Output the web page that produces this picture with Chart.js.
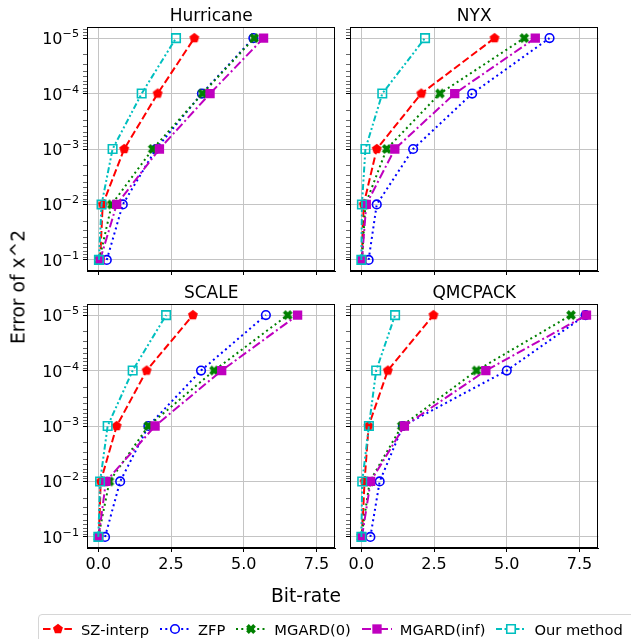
<!DOCTYPE html>
<html>
<head>
<meta charset="utf-8">
<script src="https://cdn.jsdelivr.net/npm/chart.js@4.4.1/dist/chart.umd.min.js"></script>
<style>
  body { margin: 0; background: #fff; width: 631px; height: 639px; overflow: hidden; position: relative;
         font-family: "DejaVu Sans", sans-serif; color: #000; }
  canvas.panel { position: absolute; }
  #ylabel { position: absolute; left: 18px; top: 287px; transform: translate(-50%, -50%) rotate(-90deg);
            font-size: 18.7px; white-space: nowrap; }
  #xlabel { position: absolute; left: 306px; top: 595px; transform: translate(-50%, -50%);
            font-size: 18.7px; white-space: nowrap; }
  #legend { position: absolute; left: 38px; top: 614px; width: 620px; height: 34px; box-sizing: border-box;
            border: 1px solid #d6d6d6; border-radius: 4px; background: #fff;
            display: flex; align-items: flex-start; padding: 4px 0 0 4px; font-size: 14.7px; white-space: nowrap; }
  .item { display: flex; align-items: center; margin-right: 11px; }
  .item canvas { margin-right: 8px; }
</style>
</head>
<body>
<canvas class="panel" id="hurricane"></canvas>
<canvas class="panel" id="nyx"></canvas>
<canvas class="panel" id="scale"></canvas>
<canvas class="panel" id="qmcpack"></canvas>
<div id="ylabel">Error of x^2</div>
<div id="xlabel">Bit-rate</div>
<div id="legend"></div>

<script>
// ---------- Data (bit-rate at each error bound) ----------
const errorBounds = [1e-1, 1e-2, 1e-3, 1e-4, 1e-5];
const methodNames = ["SZ-interp", "ZFP", "MGARD(0)", "MGARD(inf)", "Our method"];

const hurricaneSZ    = [0.06, 0.15, 0.89, 2.04, 3.30];
const hurricaneZFP   = [0.29, 0.84, 1.98, 3.56, 5.33];
const hurricaneMG0   = [0.03, 0.46, 1.87, 3.58, 5.36];
const hurricaneMGinf = [0.06, 0.63, 2.10, 3.84, 5.68];
const hurricaneOurs  = [0.02, 0.11, 0.49, 1.49, 2.67];

const nyxSZ    = [0.02, 0.08, 0.53, 2.06, 4.58];
const nyxZFP   = [0.25, 0.53, 1.78, 3.81, 6.47];
const nyxMG0   = [0.02, 0.14, 0.87, 2.70, 5.60];
const nyxMGinf = [0.02, 0.17, 1.15, 3.21, 5.98];
const nyxOurs  = [0.00, 0.02, 0.14, 0.72, 2.19];

const scaleSZ    = [0.02, 0.08, 0.63, 1.66, 3.25];
const scaleZFP   = [0.23, 0.75, 1.72, 3.53, 5.76];
const scaleMG0   = [0.00, 0.38, 1.72, 3.98, 6.51];
const scaleMGinf = [0.01, 0.26, 1.95, 4.24, 6.85];
const scaleOurs  = [0.00, 0.06, 0.32, 1.18, 2.33];

const qmcSZ    = [0.02, 0.11, 0.25, 0.91, 2.48];
const qmcZFP   = [0.31, 0.63, 1.43, 5.00, 7.71];
const qmcMG0   = [0.00, 0.29, 1.39, 3.96, 7.21];
const qmcMGinf = [0.02, 0.32, 1.48, 4.28, 7.74];
const qmcOurs  = [0.00, 0.03, 0.26, 0.51, 1.16];

const xTicks = [0, 2.5, 5, 7.5];

// ---------- Marker images ----------
function polyMarker(points, color) {
    const c = document.createElement("canvas");
    c.width = 14; c.height = 14;
    const g = c.getContext("2d");
    g.translate(7, 7);
    g.beginPath();
    points.forEach((p, i) => i ? g.lineTo(p[0], p[1]) : g.moveTo(p[0], p[1]));
    g.closePath();
    g.fillStyle = color;
    g.fill();
    return c;
}

function pentagon(r, color) {
    const pts = [];
    for (let i = 0; i < 5; i++) {
        const a = -Math.PI / 2 + i * 2 * Math.PI / 5;
        pts.push([r * Math.cos(a), r * Math.sin(a)]);
    }
    return polyMarker(pts, color);
}

function filledX(r, w, color) {
    const base = [[-w, -r], [w, -r], [w, -w], [r, -w], [r, w], [w, w],
                  [w, r], [-w, r], [-w, w], [-r, w], [-r, -w], [-w, -w]];
    const c = Math.SQRT1_2;
    return polyMarker(base.map(p => [(p[0] - p[1]) * c, (p[0] + p[1]) * c]), color);
}

// ---------- Styles per method ----------
const styles = [
    { color: "#ff0000", dash: [7.5, 3.2],               point: pentagon(5.2, "#ff0000"), radius: 5, fill: "#ff0000", bw: 0 },
    { color: "#0000ff", dash: [2, 3.3],                 point: "circle", radius: 4.3, fill: "rgba(0,0,0,0)", bw: 1.6 },
    { color: "#008000", dash: [2, 3.3],                 point: filledX(5.0, 1.9, "#008000"), radius: 5, fill: "#008000", bw: 0 },
    { color: "#bf00bf", dash: [9, 3, 2, 3],             point: "rect", radius: 6.6, fill: "#bf00bf", bw: 0 },
    { color: "#00bfbf", dash: [6, 2.5, 2, 2.5, 2, 2.5], point: "rect", radius: 6.0, fill: "rgba(0,0,0,0)", bw: 1.6 }
];

function toPoints(arr) {
    return arr.map((x, i) => ({ x: x, y: errorBounds[i] }));
}

function isMajor(v) {
    const l = Math.log10(v);
    return Math.abs(l - Math.round(l)) < 1e-9;
}

// every major and minor tick inside the visible range
const yMin = Math.pow(10, -5.2), yMax = Math.pow(10, -0.8);
const yTickValues = [];
for (let e = -6; e <= -1; e++) {
    for (let k = 1; k <= 9; k++) {
        const v = k * Math.pow(10, e);
        if (v >= yMin && v <= yMax) yTickValues.push(v);
    }
}

// ---------- Frame, title and 10^n labels ----------
const framePlugin = {
    id: "frame",
    afterDraw(chart, args, opts) {
        const a = chart.chartArea, g = chart.ctx;
        g.save();
        g.strokeStyle = "#000";
        g.lineWidth = 1;
        g.strokeRect(Math.round(a.left) + 0.5, Math.round(a.top) + 0.5,
                     Math.round(a.right - a.left) - 1, Math.round(a.bottom - a.top) - 1);
        g.fillStyle = "#000";
        g.font = "17px 'DejaVu Sans'";
        g.textAlign = "center";
        g.textBaseline = "alphabetic";
        g.fillText(opts.text, (a.left + a.right) / 2, a.top - 6);

        if (opts.yLabels) {
            const ys = chart.scales.y;
            g.textAlign = "left";
            ys.ticks.forEach(t => {
                if (!isMajor(t.value)) return;
                const py = ys.getPixelForValue(t.value);
                const exp = "\u2212" + Math.abs(Math.round(Math.log10(t.value)));
                g.font = "11.2px 'DejaVu Sans'";
                const wExp = g.measureText(exp).width;
                g.font = "16px 'DejaVu Sans'";
                const wBase = g.measureText("10").width;
                const right = a.left - 8;
                const x0 = right - wExp - wBase;
                const base = py + 6;
                g.fillText("10", x0, base);
                g.font = "11.2px 'DejaVu Sans'";
                g.fillText(exp, x0 + wBase, base - 7);
            });
        }
        g.restore();
    }
};

// ---------- Create one subplot ----------
function createPanel(id, title, series, pos) {
    const el = document.getElementById(id);
    el.width = pos.leftW + 252 + 4;
    el.height = pos.topH + 244 + pos.bottomH;
    el.style.left = (pos.axL - pos.leftW) + "px";
    el.style.top = (pos.axT - pos.topH) + "px";

    const datasets = series.map((arr, i) => ({
        label: methodNames[i],
        data: toPoints(arr),
        borderColor: styles[i].color,
        borderWidth: 2,
        borderDash: styles[i].dash,
        pointStyle: styles[i].point,
        pointRadius: styles[i].radius,
        pointBackgroundColor: styles[i].fill,
        pointBorderColor: styles[i].color,
        pointBorderWidth: styles[i].bw,
        fill: false,
        tension: 0,
        order: 4 - i
    }));

    return new Chart(el, {
        type: "line",
        data: { datasets: datasets },
        options: {
            responsive: false,
            animation: false,
            devicePixelRatio: 1,
            layout: { padding: { top: pos.topH, right: 4, left: 0, bottom: 0 } },
            plugins: {
                legend: { display: false },
                tooltip: { enabled: false },
                frame: { text: title, yLabels: pos.showY }
            },
            scales: {
                x: {
                    type: "linear",
                    min: -0.39, max: 8.15,
                    afterBuildTicks: s => { s.ticks = xTicks.map(v => ({ value: v })); },
                    afterFit: s => { s.height = pos.bottomH; },
                    ticks: {
                        display: pos.showX,
                        autoSkip: false,
                        maxRotation: 0,
                        padding: 3,
                        color: "#000",
                        font: { family: "DejaVu Sans", size: 16 },
                        callback: v => v.toFixed(1)
                    },
                    grid: { color: "#c4c4c4", lineWidth: 1, tickColor: "#000", tickLength: 4 },
                    border: { display: true, color: "#000", width: 1 }
                },
                y: {
                    type: "logarithmic",
                    reverse: true,
                    min: yMin, max: yMax,
                    afterBuildTicks: s => { s.ticks = yTickValues.map(v => ({ value: v })); },
                    afterFit: s => { s.width = pos.leftW; },
                    ticks: { display: false, autoSkip: false },
                    grid: {
                        color: ctx => (ctx.tick && isMajor(ctx.tick.value)) ? "#c4c4c4" : "rgba(0,0,0,0)",
                        lineWidth: 1,
                        tickColor: "#000",
                        tickWidth: ctx => (ctx.tick && isMajor(ctx.tick.value)) ? 1 : 0.6,
                        tickLength: 4
                    },
                    border: { display: true, color: "#000", width: 1 }
                }
            }
        },
        plugins: [framePlugin]
    });
}

createPanel("hurricane", "Hurricane", [hurricaneSZ, hurricaneZFP, hurricaneMG0, hurricaneMGinf, hurricaneOurs],
            { axL: 87, axT: 27, leftW: 87, topH: 27, bottomH: 10, showX: false, showY: true });
createPanel("nyx", "NYX", [nyxSZ, nyxZFP, nyxMG0, nyxMGinf, nyxOurs],
            { axL: 350, axT: 27, leftW: 10, topH: 27, bottomH: 10, showX: false, showY: false });
createPanel("scale", "SCALE", [scaleSZ, scaleZFP, scaleMG0, scaleMGinf, scaleOurs],
            { axL: 87, axT: 304, leftW: 87, topH: 30, bottomH: 30, showX: true, showY: true });
createPanel("qmcpack", "QMCPACK", [qmcSZ, qmcZFP, qmcMG0, qmcMGinf, qmcOurs],
            { axL: 350, axT: 304, leftW: 10, topH: 30, bottomH: 30, showX: true, showY: false });

// ---------- Legend ----------
const legend = document.getElementById("legend");
styles.forEach((st, i) => {
    const item = document.createElement("div");
    item.className = "item";
    const c = document.createElement("canvas");
    c.width = 30; c.height = 20;
    const g = c.getContext("2d");
    g.strokeStyle = st.color;
    g.lineWidth = 2;
    g.setLineDash(st.dash);
    g.beginPath(); g.moveTo(0, 10); g.lineTo(30, 10); g.stroke();
    g.setLineDash([]);
    if (typeof st.point === "string") {
        const s = st.radius * Math.SQRT1_2;
        g.beginPath();
        if (st.point === "circle") g.arc(15, 10, st.radius, 0, Math.PI * 2);
        else g.rect(15 - s, 10 - s, 2 * s, 2 * s);
        if (st.bw) { g.lineWidth = st.bw; g.fillStyle = "#fff"; g.fill(); g.stroke(); }
        else { g.fillStyle = st.fill; g.fill(); }
    } else {
        g.drawImage(st.point, 15 - st.point.width / 2, 10 - st.point.height / 2);
    }
    const t = document.createElement("span");
    t.textContent = methodNames[i];
    item.appendChild(c);
    item.appendChild(t);
    legend.appendChild(item);
});
</script>
</body>
</html>
